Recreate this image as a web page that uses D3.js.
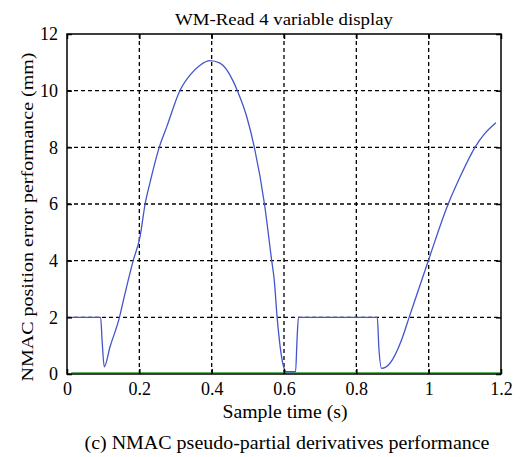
<!DOCTYPE html>
<html>
<head>
<meta charset="utf-8">
<script src="https://cdn.jsdelivr.net/npm/d3@7"></script>
<style>
  body { margin: 0; background: #fff; }
  text { font-family: "Liberation Serif", "Times New Roman", serif; fill: #000; }
</style>
</head>
<body>
<div id="chart"></div>
<script>
// Données
const temps = [0, 0.093, 0.097, 0.103, 0.119, 0.145, 0.156, 0.183, 0.202, 0.216, 0.229, 0.255, 0.276, 0.312, 0.340, 0.368, 0.395, 0.423, 0.460, 0.471, 0.497, 0.518, 0.546, 0.566, 0.573, 0.581, 0.598, 0.605, 0.632, 0.636, 0.640, 0.858, 0.862, 0.870, 0.893, 0.925, 0.946, 0.999, 1.054, 1.087, 1.128, 1.156, 1.186];
const erreur = [2, 2, 1.2, 0.25, 0.96, 2, 2.6, 4, 4.85, 6, 6.73, 8, 8.73, 10, 10.55, 10.9, 11.06, 10.97, 10.32, 10, 9.08, 8, 6, 4, 3.32, 2, 0.3, 0.08, 0.08, 1.2, 2, 2, 1.0, 0.2, 0.38, 1.2, 2, 4, 6, 6.96, 8, 8.5, 8.87];
const referenceTemps = [0.012, 1.2];
const referenceValeur = [0, 0];
const ticksX = [0, 0.2, 0.4, 0.6, 0.8, 1, 1.2];
const ticksY = [0, 2, 4, 6, 8, 10, 12];

const largeur = 520, hauteur = 457;
const marge = {haut: 34, droite: 19, bas: 83, gauche: 67};

const svg = d3.select('#chart').append('svg')
    .attr('width', largeur)
    .attr('height', hauteur);

const x = d3.scaleLinear().domain([0, 1.2]).range([marge.gauche, largeur - marge.droite]);
const y = d3.scaleLinear().domain([0, 12]).range([hauteur - marge.bas, marge.haut]);

// Grille pointillée
const grille = svg.append('g')
    .attr('stroke', '#000')
    .attr('stroke-width', 1.3)
    .attr('stroke-dasharray', '4,3');
grille.selectAll('.gx').data(ticksX.slice(1, -1)).enter().append('line')
    .attr('x1', d => x(d)).attr('x2', d => x(d))
    .attr('y1', y(0)).attr('y2', y(12));
grille.selectAll('.gy').data(ticksY.slice(1, -1)).enter().append('line')
    .attr('x1', x(0)).attr('x2', x(1.2))
    .attr('y1', d => y(d)).attr('y2', d => y(d));

const ligne = d3.line().x(d => x(d[0])).y(d => y(d[1])).curve(d3.curveMonotoneX);

// Série verte à zéro
svg.append('path')
    .datum(referenceTemps.map((t, i) => [t, referenceValeur[i]]))
    .attr('d', ligne)
    .attr('fill', 'none')
    .attr('stroke', '#3aa03a')
    .attr('stroke-width', 1)
    .attr('transform', 'translate(0,-1.3)');

// Courbe bleue
svg.append('path')
    .datum(temps.map((t, i) => [t, erreur[i]]))
    .attr('d', ligne)
    .attr('fill', 'none')
    .attr('stroke', '#4455cc')
    .attr('stroke-width', 1.3);

// Cadre et graduations
const axeBas = d3.axisBottom(x).tickValues(ticksX).tickSizeInner(-5).tickSizeOuter(0).tickPadding(8)
    .tickFormat(d => d3.format('')(d));
const axeGauche = d3.axisLeft(y).tickValues(ticksY).tickSizeInner(-5).tickSizeOuter(0).tickPadding(9);
const axeHaut = d3.axisTop(x).tickValues(ticksX).tickSizeInner(-5).tickSizeOuter(0).tickFormat('');
const axeDroite = d3.axisRight(y).tickValues(ticksY).tickSizeInner(-5).tickSizeOuter(0).tickFormat('');

[
    [axeBas, `translate(0,${y(0)})`],
    [axeGauche, `translate(${x(0)},0)`],
    [axeHaut, `translate(0,${y(12)})`],
    [axeDroite, `translate(${x(1.2)},0)`]
].forEach(([axe, tr]) => {
    const g = svg.append('g').attr('transform', tr).call(axe);
    g.select('.domain').remove();
    g.selectAll('line').attr('stroke', '#000').attr('stroke-width', 1.5);
    g.selectAll('text').style('font-size', '18px').style('font-family', '"Liberation Serif", serif');
});

svg.append('rect')
    .attr('x', x(0)).attr('y', y(12))
    .attr('width', x(1.2) - x(0)).attr('height', y(0) - y(12))
    .attr('fill', 'none').attr('stroke', '#000').attr('stroke-width', 1.5);

// Textes
svg.append('text')
    .attr('x', 284).attr('y', 25)
    .attr('text-anchor', 'middle').style('font-size', '17px')
    .attr('textLength', 218).attr('lengthAdjust', 'spacingAndGlyphs')
    .text('WM-Read 4 variable display');

svg.append('text')
    .attr('x', 285).attr('y', 418)
    .attr('text-anchor', 'middle').style('font-size', '18px')
    .attr('textLength', 125).attr('lengthAdjust', 'spacingAndGlyphs')
    .text('Sample time (s)');

svg.append('text')
    .attr('transform', `translate(33,217) rotate(-90)`)
    .attr('text-anchor', 'middle').style('font-size', '17px')
    .attr('textLength', 329).attr('lengthAdjust', 'spacingAndGlyphs')
    .text('NMAC position error performance (mm)');

svg.append('text')
    .attr('x', 287).attr('y', 449)
    .attr('text-anchor', 'middle').style('font-size', '18px')
    .attr('textLength', 405).attr('lengthAdjust', 'spacingAndGlyphs')
    .text('(c) NMAC pseudo-partial derivatives performance');
</script>
</body>
</html>
